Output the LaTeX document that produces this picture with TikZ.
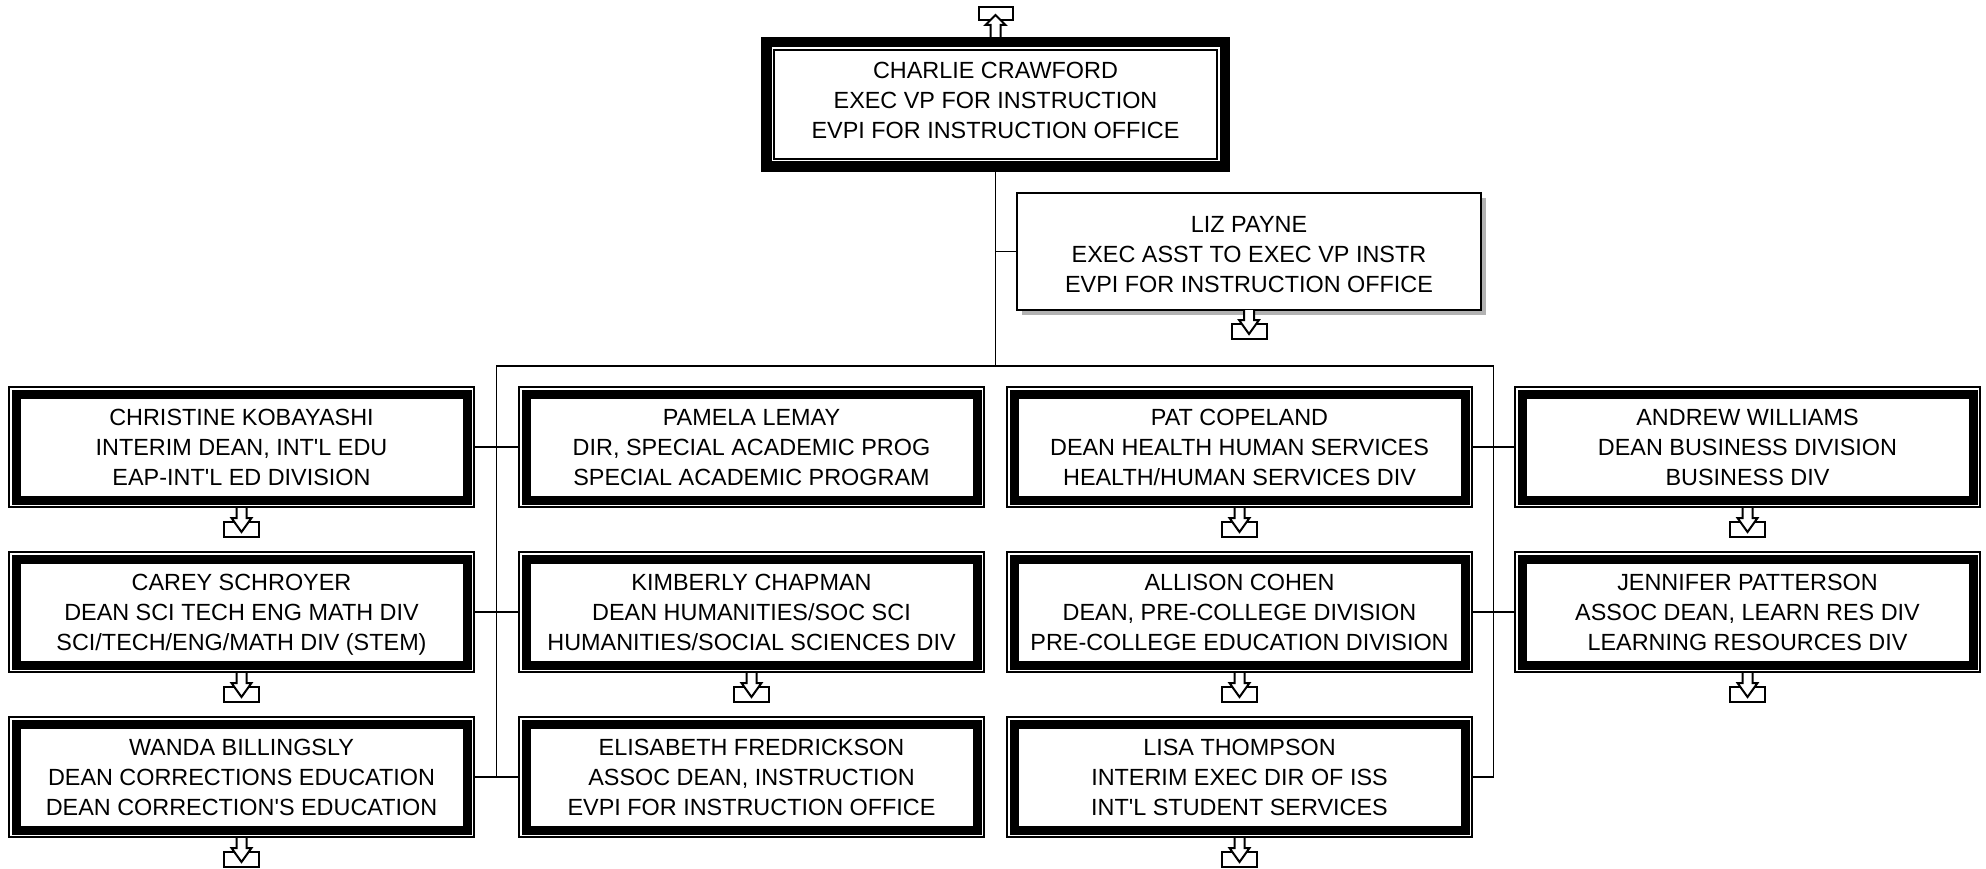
\documentclass[tikz,border=0pt]{standalone}
\usepackage{fontspec}
\setmainfont{Liberation Sans}
\usetikzlibrary{shadows}
\newcommand{\fstrut}{\rule{0pt}{22.8pt}}
\newcommand{\lstrut}{\rule{0pt}{27.8pt}}
\tikzset{
  unitbox/.style={rectangle, inner sep=0pt, outer sep=0pt, align=center,
    font=\fontsize{23.4}{30}\selectfont},
  rowbox/.style={unitbox, minimum width=467pt, minimum height=122pt,
    execute at end node={\rule[-6pt]{0pt}{6pt}}},
  topbox/.style={unitbox, minimum width=469pt, minimum height=135pt,
    execute at end node={\rule[-14pt]{0pt}{14pt}}},
  lizbox/.style={unitbox, minimum width=464pt, minimum height=117pt, fill=white, draw, line width=2pt,
    drop shadow={shadow xshift=5pt, shadow yshift=-5pt, fill=gray!60, opacity=1},
    execute at end node={\rule[-6pt]{0pt}{6pt}}},
  conn/.style={line width=1.6pt},
  icon/.style={line width=2pt, fill=white, line join=miter},
}
\newcommand{\thinthickframe}[1]{%
  \draw[line width=2pt] ([xshift=1pt,yshift=-1pt]#1.north west) rectangle ([xshift=-1pt,yshift=1pt]#1.south east);
  \draw[line width=9pt] ([xshift=8pt,yshift=-8pt]#1.north west) rectangle ([xshift=-8pt,yshift=8pt]#1.south east);
}
\newcommand{\thickthinframe}[1]{%
  \draw[line width=10.5pt] ([xshift=5.25pt,yshift=-5.25pt]#1.north west) rectangle ([xshift=-5.25pt,yshift=5.25pt]#1.south east);
  \draw[line width=2pt] ([xshift=13pt,yshift=-13pt]#1.north west) rectangle ([xshift=-13pt,yshift=13pt]#1.south east);
}
\newcommand{\downicon}[1]{%
  \draw[icon] ([xshift=-17.5pt,yshift=-14pt]#1.south) rectangle ([xshift=17.5pt,yshift=-29pt]#1.south);
  \draw[icon] ([xshift=-5pt]#1.south) -- ++(0pt,-10pt) -- ++(-5pt,0pt) -- ++(10pt,-14pt) -- ++(10pt,14pt) -- ++(-5pt,0pt) -- ++(0pt,10pt);
}
\newcommand{\upicon}[1]{%
  \draw[icon] ([xshift=-17pt,yshift=17pt]#1.north) rectangle ([xshift=17pt,yshift=30pt]#1.north);
  \draw[icon] ([xshift=-5pt]#1.north) -- ++(0pt,12pt) -- ++(-5pt,0pt) -- ++(10pt,10pt) -- ++(10pt,-10pt) -- ++(-5pt,0pt) -- ++(0pt,-12pt);
}
\begin{document}
\begin{tikzpicture}[x=1pt,y=-1pt]
\useasboundingbox[fill=white] (0,0) rectangle (1986,869);

% top box
\node[topbox] (top) at (995.5,104.5) {\fstrut CHARLIE CRAWFORD\\EXEC VP FOR INSTRUCTION\\EVPI FOR INSTRUCTION OFFICE};
\thickthinframe{top}
\upicon{top}

% bus coordinates
\coordinate (busL) at (496.5,366);
\coordinate (busR) at (1493.5,366);

% assistant
\node[lizbox] (liz) at (1249,251.5) {\lstrut LIZ PAYNE\\EXEC ASST TO EXEC VP INSTR\\EVPI FOR INSTRUCTION OFFICE};
\downicon{liz}

% row boxes
\node[rowbox] (chris) at (241.5,447) {\fstrut CHRISTINE KOBAYASHI\\INTERIM DEAN, INT\textquotesingle L EDU\\EAP-INT\textquotesingle L ED DIVISION};
\node[rowbox] (pamela) at (751.5,447) {\fstrut PAMELA LEMAY\\DIR, SPECIAL ACADEMIC PROG\\SPECIAL ACADEMIC PROGRAM};
\node[rowbox] (pat) at (1239.5,447) {\fstrut PAT COPELAND\\DEAN HEALTH HUMAN SERVICES\\HEALTH/HUMAN SERVICES DIV};
\node[rowbox] (andrew) at (1747.5,447) {\fstrut ANDREW WILLIAMS\\DEAN BUSINESS DIVISION\\BUSINESS DIV};

\node[rowbox] (carey) at (241.5,612) {\fstrut CAREY SCHROYER\\DEAN SCI TECH ENG MATH DIV\\SCI/TECH/ENG/MATH DIV (STEM)};
\node[rowbox] (kim) at (751.5,612) {\fstrut KIMBERLY CHAPMAN\\DEAN HUMANITIES/SOC SCI\\HUMANITIES/SOCIAL SCIENCES DIV};
\node[rowbox] (allison) at (1239.5,612) {\fstrut ALLISON COHEN\\DEAN, PRE-COLLEGE DIVISION\\PRE-COLLEGE EDUCATION DIVISION};
\node[rowbox] (jennifer) at (1747.5,612) {\fstrut JENNIFER PATTERSON\\ASSOC DEAN, LEARN RES DIV\\LEARNING RESOURCES DIV};

\node[rowbox] (wanda) at (241.5,777) {\fstrut WANDA BILLINGSLY\\DEAN CORRECTIONS EDUCATION\\DEAN CORRECTION\textquotesingle S EDUCATION};
\node[rowbox] (elis) at (751.5,777) {\fstrut ELISABETH FREDRICKSON\\ASSOC DEAN, INSTRUCTION\\EVPI FOR INSTRUCTION OFFICE};
\node[rowbox] (lisa) at (1239.5,777) {\fstrut LISA THOMPSON\\INTERIM EXEC DIR OF ISS\\INT\textquotesingle L STUDENT SERVICES};

% connectors
\draw[conn] (top.south) -- (top.south |- busL);
\draw[conn] (top.south |- liz.west) -- (liz.west);
\draw[conn] (busL |- wanda.east) -- (busL) -- (busR) -- (busR |- lisa.east);
\draw[conn] (chris.east) -- (pamela.west);
\draw[conn] (carey.east) -- (kim.west);
\draw[conn] (wanda.east) -- (elis.west);
\draw[conn] (pat.east) -- (andrew.west);
\draw[conn] (allison.east) -- (jennifer.west);
\draw[conn] (lisa.east) -- (busR |- lisa.east);

% frames
\foreach \b in {chris,pamela,pat,andrew,carey,kim,allison,jennifer,wanda,elis,lisa}{\thinthickframe{\b}}

% icons
\foreach \b in {chris,pat,andrew,carey,kim,allison,jennifer,wanda,lisa}{\downicon{\b}}
\end{tikzpicture}
\end{document}
